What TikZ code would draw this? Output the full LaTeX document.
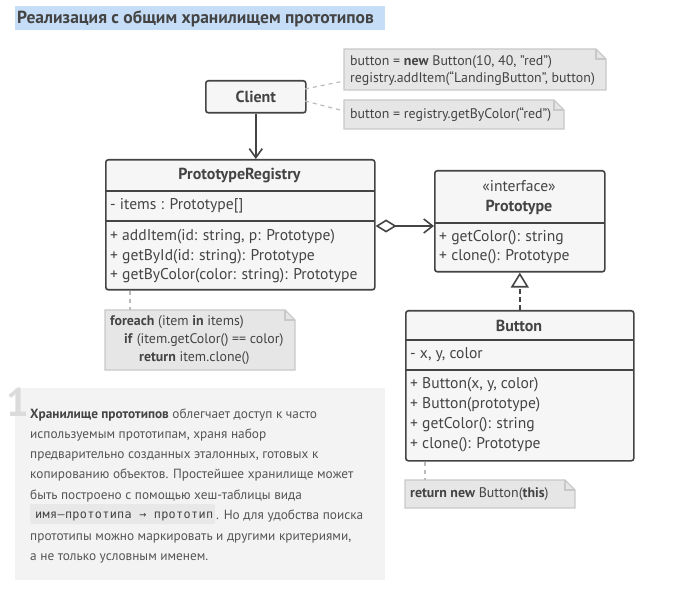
\documentclass[tikz,border=0pt]{standalone}
\usepackage{fontspec}
\setmainfont{PT Sans}
\newfontfamily\codefont[LetterSpace=3]{DejaVu Sans Mono}
\usetikzlibrary{arrows.meta,calc}
\definecolor{ink}{HTML}{444444}
\definecolor{boxfill}{HTML}{F6F6F6}
\definecolor{notefill}{HTML}{E6E6E6}
\definecolor{noteline}{HTML}{C8C8C8}
\definecolor{conn}{HTML}{BBBBBB}
\definecolor{titlebg}{HTML}{C6DDF8}
\definecolor{panel}{HTML}{F3F3F3}
\definecolor{bodytxt}{HTML}{555555}
\definecolor{codebg}{HTML}{E8E8E8}
\newcommand\mynote[5]{%
  \node[inner sep=0, minimum width=#4-#2, minimum height=#5-#3, anchor=north west] (#1) at (#2,#3) {};
  \draw[notedraw] (#2,#3) -- (#4-10,#3) -- (#4,#3+10) -- (#4,#5) -- (#2,#5) -- cycle;
  \draw[notedraw, fill=none] (#4-10,#3) -- (#4-10,#3+10) -- (#4,#3+10);
}
\begin{document}
\begin{tikzpicture}[x=1pt,y=-1pt,
  umlbox/.style={draw=ink, line width=1.6pt, fill=boxfill, rounded corners=2.5pt, inner sep=0pt, anchor=north west},
  sepline/.style={draw=ink, line width=1.6pt},
  uml/.style={font=\fontsize{15.6}{18}\selectfont, text=ink, inner sep=0pt},
  umlb/.style={font=\fontsize{16}{18}\bfseries, text=ink, inner sep=0pt},
  notedraw/.style={draw=noteline, fill=notefill, line width=1.2pt},
  notetxt/.style={font=\fontsize{13.9}{17}\selectfont, text=ink, inner sep=0pt, anchor=west},
  conndash/.style={draw=conn, line width=1.2pt, dash pattern=on 4pt off 4pt},
  body/.style={font=\fontsize{13.3}{17}\selectfont, text=bodytxt, inner sep=0pt, anchor=base west},
  assoc/.style={draw=ink, line width=1.6pt}
]
\useasboundingbox (0,0) rectangle (682,593);

% title
\fill[titlebg] (15,6) rectangle (385,30);
\node[font=\fontsize{17.5}{20}\bfseries, text=ink, inner sep=0, anchor=west] (title) at (17,18.5) {Реализация с общим хранилищем прототипов};

% Client
\node[umlbox, minimum width=100pt, minimum height=32pt] (client) at (205,80) {};
\node[umlb] (clientname) at (client.center) {Client};

% notes near client
\mynote{noteA}{344}{49}{606}{90}
\node[notetxt] (noteAa) at (350,62) {button = \textbf{new} Button(10, 40, "red")};
\node[notetxt] (noteAb) at (350,79) {registry.addItem(“LandingButton”, button)};
\mynote{noteB}{344}{100}{564}{129}
\node[notetxt] (noteBa) at (350,114.5) {button = registry.getByColor(“red”)};
\coordinate (cA) at (305,89);
\coordinate (cB) at (305,101);
\draw[conndash] (cA) -- (noteA.west |- 0,81);
\draw[conndash] (cB) -- (noteB.west |- 0,111);

% PrototypeRegistry
\node[umlbox, minimum width=269pt, minimum height=130pt] (reg) at (105,159) {};
\draw[sepline] (105,191) -- (374,191);
\draw[sepline] (105,221) -- (374,221);
\node[umlb] (regname) at (239.5,175.5) {PrototypeRegistry};
\node[uml, anchor=west] (rega) at (110,206) {- items : Prototype[]};
\node[uml, anchor=west] (regm1) at (110,236.5) {+ addItem(id: string, p: Prototype)};
\node[uml, anchor=west] (regm2) at (110,256.5) {+ getById(id: string): Prototype};
\node[uml, anchor=west] (regm3) at (110,276) {+ getByColor(color: string): Prototype};

% client -> registry
\draw[assoc, -{Straight Barb[length=9pt, width=13pt, line width=1.6pt]}] (client.south) -- (reg.north -| client.south);

% Prototype interface
\node[umlbox, minimum width=170pt, minimum height=101pt] (proto) at (434,170) {};
\draw[sepline] (434,223) -- (604,223);
\node[uml] (protost) at (519,186) {«interface»};
\node[umlb] (protoname) at (519,207) {Prototype};
\node[uml, anchor=west] (protom1) at (439,237.5) {+ getColor(): string};
\node[uml, anchor=west] (protom2) at (439,256.5) {+ clone(): Prototype};

% aggregation
\draw[assoc, {Diamond[open, length=21pt, width=13pt, line width=1.6pt]}-{Straight Barb[length=9pt, width=14pt, line width=1.6pt]}]
  ($(reg.north east)+(0,67)$) -- ($(proto.north west)+(0,56)$);

% Button
\node[umlbox, minimum width=228pt, minimum height=150pt] (button) at (405,310) {};
\draw[sepline] (405,340) -- (633,340);
\draw[sepline] (405,370) -- (633,370);
\node[umlb] (buttonname) at (519,325.5) {Button};
\node[uml, anchor=west] (buttona) at (410,355) {- x, y, color};
\node[uml, anchor=west] (buttonm1) at (410,385) {+ Button(x, y, color)};
\node[uml, anchor=west] (buttonm2) at (410,405) {+ Button(prototype)};
\node[uml, anchor=west] (buttonm3) at (410,425) {+ getColor(): string};
\node[uml, anchor=west] (buttonm4) at (410,445) {+ clone(): Prototype};

% realization
\draw[assoc, dash pattern=on 5pt off 3pt, -{Triangle[open, length=15pt, width=18pt, line width=1.6pt]}] (button.north) -- (proto.south);

% foreach note
\mynote{noteC}{105}{310}{295}{370}
\node[notetxt] (noteCa) at (110,322) {\textbf{foreach} (item \textbf{in} items)};
\node[notetxt] (noteCb) at (124,340) {\textbf{if} (item.getColor() == color)};
\node[notetxt] (noteCc) at (139,358) {\textbf{return} item.clone()};
\draw[conndash] (reg.south west -| 130,0) -- (noteC.north west -| 130,0);

% return note
\mynote{noteD}{405}{480}{575}{508}
\node[notetxt] (noteDa) at (410,494.5) {\textbf{return new} Button(\textbf{this})};
\draw[conndash] (button.south west -| 425,0) -- (noteD.north west -| 425,0);

% bottom panel
\fill[panel] (15,388) rectangle (385,580);
\node[font=\fontsize{40}{40}\bfseries, text=black!14, inner sep=0, anchor=base west] (num) at (6,416) {1};
\node[body] (l1) at (30,418) {\textcolor{ink}{\textbf{Хранилище прототипов}} облегчает доступ к часто};
\node[body] (l2) at (30,438) {используемым прототипам, храня набор};
\node[body] (l3) at (30,458) {предварительно созданных эталонных, готовых к};
\node[body] (l4) at (30,478) {копированию объектов. Простейшее хранилище может};
\node[body] (l5) at (30,499) {быть построено с помощью хеш-таблицы вида};
\fill[codebg, rounded corners=2pt] (30,504) rectangle (215,524);
\node[font=\codefont\fontsize{11.8}{14}\selectfont, text=ink, inner sep=0, anchor=base west] (code) at (35,518.5) {имя–прототипа → прототип};
\node[body] (l6b) at (216,519) {. Но для удобства поиска};
\node[body] (l7) at (30,540) {прототипы можно маркировать и другими критериями,};
\node[body] (l8) at (30,560) {а не только условным именем.};
\end{tikzpicture}
\end{document}
